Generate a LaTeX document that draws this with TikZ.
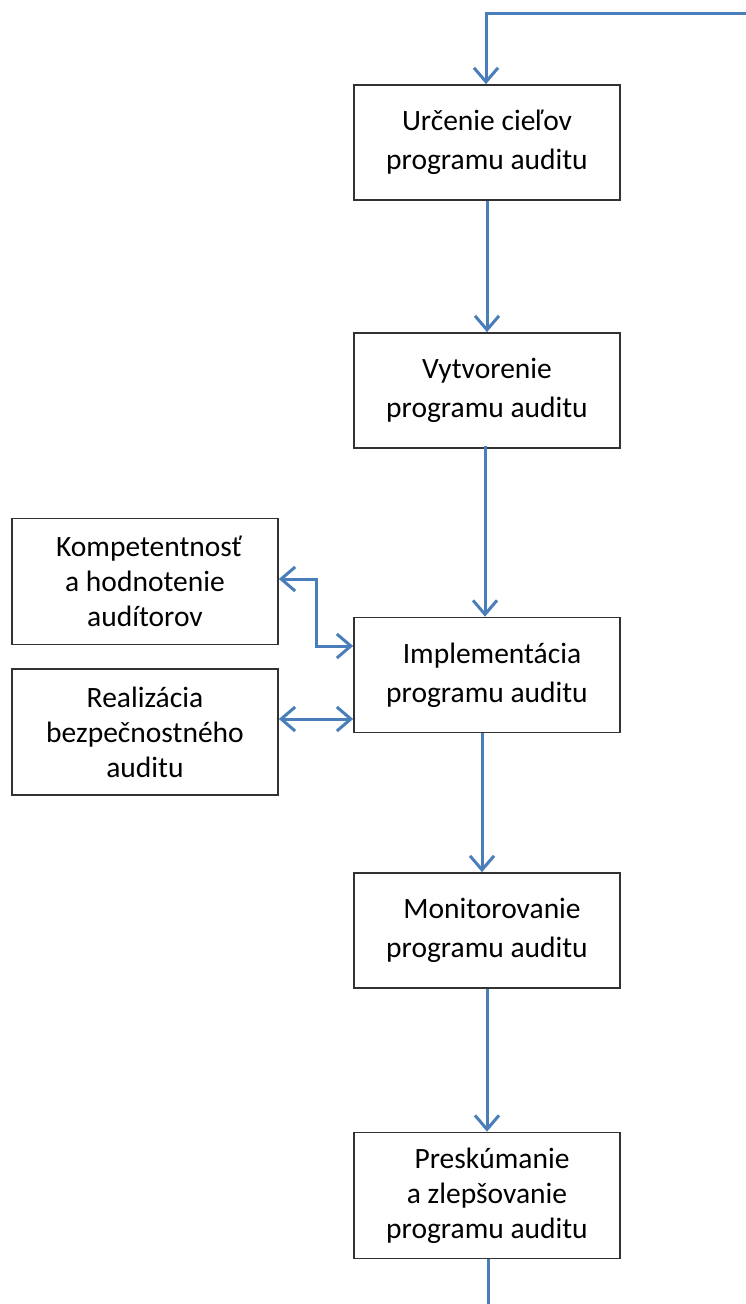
\documentclass[tikz,border=0pt]{standalone}
\usepackage{fontspec}
\setmainfont{Carlito}
\usetikzlibrary{arrows.meta}
\definecolor{arr}{RGB}{74,126,187}
\definecolor{bx}{RGB}{50,50,50}
\begin{document}
\begin{tikzpicture}[x=1pt,y=-1pt,
  box/.style={draw=bx,line width=1.7pt,minimum width=266pt,minimum height=115pt,align=center,inner sep=0pt,font=\fontsize{29.5}{39}\selectfont},
  box3/.style={box,minimum height=126pt,font=\fontsize{29.5}{35}\selectfont},
  conn/.style={draw=arr,line width=3pt,-{Straight Barb[length=14pt,width=24pt,line width=3pt]}},
  dconn/.style={draw=arr,line width=3pt,{Straight Barb[length=14pt,width=24pt,line width=3pt]}-{Straight Barb[length=14pt,width=24pt,line width=3pt]}}]
\useasboundingbox (0,0) rectangle (746,1304);
\node[box] (b1) at (487,142.5) {Určenie cieľov\\programu auditu};
\node[box] (b2) at (487,390.5) {Vytvorenie\\programu auditu};
\node[box] (b3) at (487,675) {\hspace*{10pt}Implementácia\\programu auditu};
\node[box] (b4) at (487,930.5) {\hspace*{10pt}Monitorovanie\\programu auditu};
\node[box3] (b5) at (487,1195.5) {\hspace*{10pt}Preskúmanie\\a zlepšovanie\\programu auditu};
\node[box3] (la) at (145,581.5) {\hspace*{8pt}Kompetentnosť\\a hodnotenie\\audítorov};
\node[box3] (lb) at (145,732) {Realizácia\\bezpečnostného\\auditu};
\coordinate (tr) at (746,13);
\coordinate (tc) at (486,13);
\coordinate (bot) at (488,1304);
\coordinate (k1) at (316,646);
\coordinate (k2) at (316,579);
\draw[conn] (tr) -- (tc) -- (b1.north -| tc);
\draw[conn] (b1.south) -- (b2.north);
\draw[conn] ([yshift=3pt]b2.south -| 485,0) -- (b3.north -| 485,0);
\draw[conn] (b3.south -| 482,0) -- (b4.north -| 482,0);
\draw[conn] (b4.south) -- (b5.north);
\draw[draw=arr,line width=3pt] (b5.south -| bot) -- (bot);
\draw[dconn] (b3.west |- k1) -- (k1) -- (k2) -- (la.east |- k2);
\draw[dconn] (lb.east |- 0,719) -- (b3.west |- 0,719);
\end{tikzpicture}
\end{document}
